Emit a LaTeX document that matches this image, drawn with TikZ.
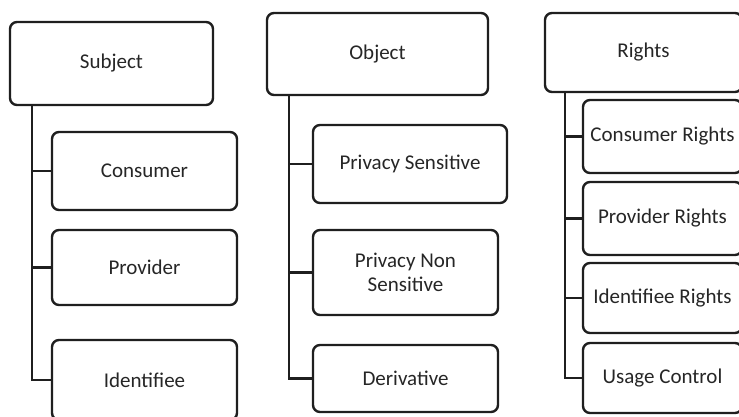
\documentclass[tikz,border=0pt]{standalone}
\usepackage{fontspec}
\setmainfont{Carlito}
\begin{document}
\begin{tikzpicture}[x=1pt,y=-1pt,
  box/.style={draw=black!88, line width=2.4pt, rounded corners=7pt, fill=white,
    inner sep=2pt, align=center, text=black!85,
    font=\fontsize{21}{24}\selectfont},
  link/.style={draw=black!88, line width=2.4pt}]
\useasboundingbox (0,0) rectangle (739,416);
\clip (0,0) rectangle (739,416);

% Subject column
\node[box, minimum width=203pt, minimum height=83pt] (subj) at (111.5,63.5) {Subject};
\node[box, minimum width=185pt, minimum height=78pt] (cons) at (144.5,171) {Consumer};
\node[box, minimum width=185pt, minimum height=75pt] (prov) at (144.5,267.5) {Provider};
\node[box, minimum width=185pt, minimum height=80pt] (iden) at (144.5,380) {Identifiee};
\coordinate (t1) at (32,105);
\draw[link] (t1) |- (iden.west);
\draw[link] (t1 |- cons.west) -- (cons.west);
\draw[link] (t1 |- prov.west) -- (prov.west);

% Object column
\node[box, minimum width=221pt, minimum height=82pt] (obj) at (377.5,54) {Object};
\node[box, minimum width=194pt, minimum height=78pt] (psens) at (410,164) {Privacy Sensitive};
\node[box, minimum width=185pt, minimum height=85pt] (pnon) at (405.5,272.5) {Privacy Non\\Sensitive};
\node[box, minimum width=185pt, minimum height=67pt] (deriv) at (405.5,378.5) {Derivative};
\coordinate (t2) at (289,95);
\draw[link] (t2) |- (deriv.west);
\draw[link] (t2 |- psens.west) -- (psens.west);
\draw[link] (t2 |- pnon.west) -- (pnon.west);

% Rights column
\node[box, minimum width=197pt, minimum height=79pt] (rights) at (643.5,52.5) {Rights};
\node[box, minimum width=159pt, minimum height=73pt] (crights) at (662.5,136.5) {Consumer Rights};
\node[box, minimum width=159pt, minimum height=73pt] (prights) at (662.5,218.5) {Provider Rights};
\node[box, minimum width=159pt, minimum height=70pt] (irights) at (662.5,298) {Identifiee Rights};
\node[box, minimum width=159pt, minimum height=70pt] (usage) at (662.5,378) {Usage Control};
\coordinate (t3) at (565,92);
\draw[link] (t3) |- (usage.west);
\draw[link] (t3 |- crights.west) -- (crights.west);
\draw[link] (t3 |- prights.west) -- (prights.west);
\draw[link] (t3 |- irights.west) -- (irights.west);
\end{tikzpicture}
\end{document}
